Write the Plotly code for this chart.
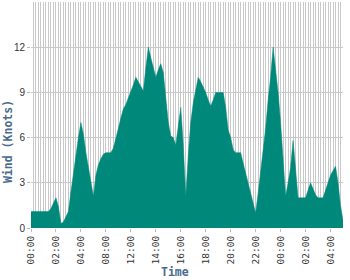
import plotly.graph_objects as go

# Wind speed samples (knots), evenly spaced categories
wind = [1.1, 1.1, 1.1, 1.1, 1.1, 1.1, 1.1, 1.1, 1.3, 1.7,
        2.0, 1.4, 0.3, 0.4, 0.8, 1.1, 2.4, 3.7, 4.8, 6.0,
        7.0, 6.2, 5.0, 4.0, 2.9, 2.1, 3.5, 4.2, 4.6, 4.9,
        5.0, 5.0, 5.0, 5.3, 5.9, 6.6, 7.3, 7.9, 8.2, 8.6,
        9.1, 9.5, 10.0, 9.7, 9.3, 9.1, 10.6, 12.0, 11.3, 10.6,
        10.0, 10.5, 10.9, 10.3, 8.6, 7.0, 6.1, 6.0, 5.5, 6.7,
        8.0, 5.5, 2.1, 4.8, 7.0, 8.3, 9.3, 10.0, 9.7, 9.4,
        9.0, 8.5, 8.1, 8.5, 9.0, 9.0, 9.0, 9.0, 8.0, 6.5,
        6.0, 5.2, 5.0, 5.0, 5.0, 4.3, 3.6, 2.9, 2.2, 1.5,
        1.0, 2.3, 3.6, 5.0, 6.6, 8.5, 10.0, 12.0, 10.5, 9.0,
        7.0, 4.5, 2.1, 3.0, 4.0, 5.8, 4.0, 2.0, 2.0, 2.0,
        2.0, 2.5, 3.0, 2.6, 2.2, 2.0, 2.0, 2.0, 2.5, 3.0,
        3.5, 3.8, 4.1, 3.0, 1.5, 0.5]
x_idx = list(range(len(wind)))

tick_pos = [0, 10, 20, 30, 40, 50, 60, 70, 80, 90, 100, 110, 120]
tick_labels = ["00:00", "02:00", "04:00", "08:00", "12:00", "14:00", "16:00",
               "18:00", "20:00", "22:00", "00:00", "02:00", "04:00"]
y_ticks = [0, 3, 6, 9, 12]

fig = go.Figure()
fig.add_trace(go.Scatter(
    x=x_idx, y=wind, mode="lines", fill="tozeroy",
    fillcolor="#00897B", line=dict(color="#00897B", width=0.5),
    hoverinfo="skip", showlegend=False))

grid = "#c8c8c8"
fig.update_layout(
    width=350, height=280,
    margin=dict(l=31, r=7, t=2, b=52),
    paper_bgcolor="white", plot_bgcolor="white",
    showlegend=False,
    xaxis=dict(
        range=[0, len(wind) - 1],
        tickmode="array", tickvals=tick_pos, ticktext=tick_labels,
        tickangle=-90, ticks="outside", ticklen=3, tickcolor="#bbbbbb",
        tickfont=dict(family="DejaVu Sans Mono", size=9.5, color="#333333"),
        showgrid=True, gridcolor=grid, gridwidth=1,
        minor=dict(dtick=1, tick0=0, showgrid=True, gridcolor=grid, gridwidth=1, ticks=""),
        zeroline=False, showline=False,
    ),
    yaxis=dict(
        range=[0, 15], tickmode="array", tickvals=y_ticks,
        ticks="outside", ticklen=3, tickcolor="#bbbbbb",
        tickfont=dict(family="Liberation Sans", size=10, color="#333333"),
        showgrid=True, gridcolor=grid, gridwidth=1,
        zeroline=False, showline=False,
    ),
    annotations=[
        dict(text="Time", xref="paper", yref="paper",
             x=(175 - 31) / 312, y=(228 - 272) / 226,
             xanchor="center", yanchor="middle", showarrow=False,
             font=dict(family="DejaVu Sans Mono", size=11.5, color="#4a6b8c", weight="bold")),
        dict(text="Wind (Knots)", xref="paper", yref="paper",
             x=(7.5 - 31) / 312, y=(228 - 141.5) / 226, textangle=-90,
             xanchor="center", yanchor="middle", showarrow=False,
             font=dict(family="DejaVu Sans Mono", size=11.5, color="#4a6b8c", weight="bold")),
    ],
)

fig.write_html("out.html")
